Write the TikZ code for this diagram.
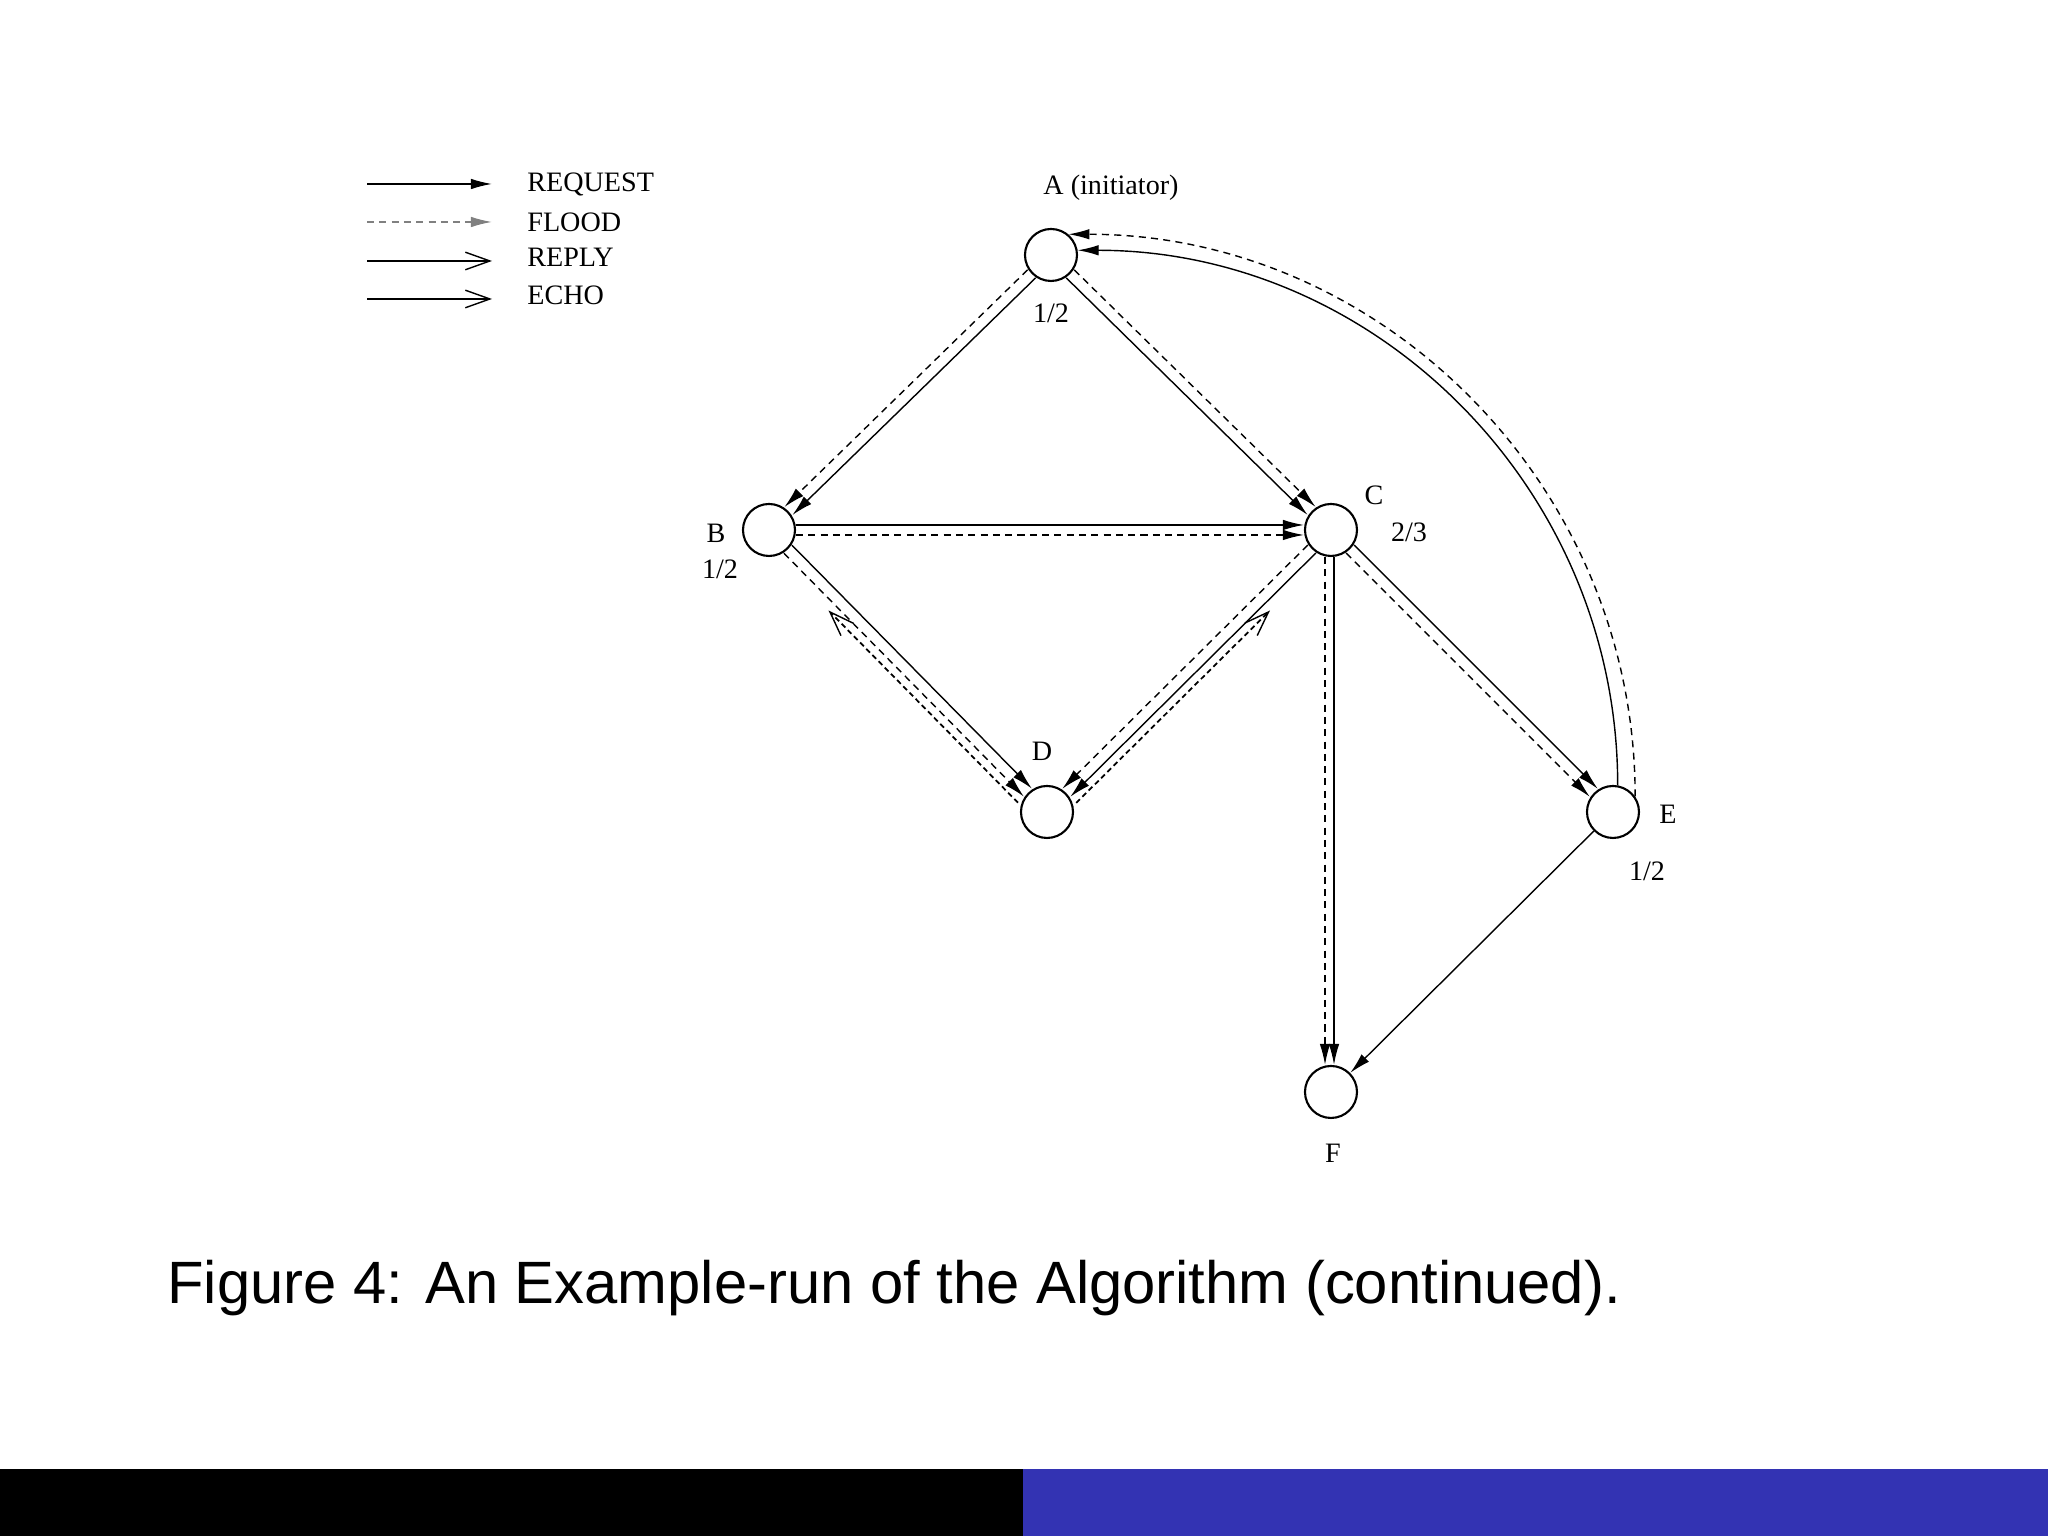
\documentclass[tikz,border=0pt]{standalone}
\usepackage{fontspec}
\setmainfont{Liberation Serif}
\newfontfamily\capfont{Liberation Sans}
\usetikzlibrary{arrows.meta,calc}
\definecolor{barblue}{RGB}{51,51,179}
\tikzset{
	host/.style		= {circle, draw, line width = 0.6pt, minimum size = 0.52cm, inner sep = 0pt},
	lbl/.style		= {font = \fontsize{8}{9}\selectfont},
	request/.style	= {line width = 0.4pt, -{Latex[length = 6pt, width = 3pt]}},
	flood/.style	= {line width = 0.4pt, dash pattern = on 2pt off 1.5pt, -{Latex[length = 6pt, width = 3pt]}},
	reply/.style	= {line width = 0.8pt, -{Straight Barb[length = 7pt, width = 5pt, line width = 0.4pt]}},
	echo/.style		= {line width = 0.5pt, dash pattern = on 1.5pt off 1pt, -{Straight Barb[length = 7pt, width = 5pt, line width = 0.4pt]}},
	off/.style		= {transform canvas = {shift = {#1}}}
}
\begin{document}
\begin{tikzpicture}
\useasboundingbox (0, 0) rectangle (20.48, 15.36);

\path	(10.51, 12.81)	node(a)		[host]	{}
		(7.69, 10.06)	node(b)		[host]	{}
		(13.31, 10.06)	node(c)		[host]	{}
		(10.47, 7.24)	node(d)		[host]	{}
		(16.13, 7.24)	node(e)		[host]	{}
		(13.31, 4.44)	node(f)		[host]	{};

\path	(11.11, 13.48)	node(a_name)	[lbl]	{A (initiator)}
		(10.51, 12.23)	node(a_val)		[lbl]	{1/2}
		(7.16, 10.03)	node(b_name)	[lbl]	{B}
		(7.20, 9.67)	node(b_val)		[lbl]	{1/2}
		(13.74, 10.41)	node(c_name)	[lbl]	{C}
		(14.09, 10.04)	node(c_val)		[lbl]	{2/3}
		(10.42, 7.85)	node(d_name)	[lbl]	{D}
		(16.68, 7.22)	node(e_name)	[lbl]	{E}
		(16.47, 6.65)	node(e_val)		[lbl]	{1/2}
		(13.33, 3.83)	node(f_name)	[lbl]	{F};

% legend
\path	(3.67, 13.52)	coordinate(req_from)	(4.92, 13.52)	coordinate(req_to)
		(3.67, 13.14)	coordinate(fl_from)		(4.92, 13.14)	coordinate(fl_to)
		(3.67, 12.75)	coordinate(rep_from)	(4.92, 12.75)	coordinate(rep_to)
		(3.67, 12.37)	coordinate(ech_from)	(4.92, 12.37)	coordinate(ech_to);
\path	(5.15, 13.52)	node(req_txt)	[lbl, anchor = west]	{REQUEST}
		(5.15, 13.14)	node(fl_txt)	[lbl, anchor = west]	{FLOOD}
		(5.15, 12.79)	node(rep_txt)	[lbl, anchor = west]	{REPLY}
		(5.15, 12.41)	node(ech_txt)	[lbl, anchor = west]	{ECHO};
\draw[request]	(req_from)	--	(req_to);
\draw[flood, gray]	(fl_from)	--	(fl_to);
\draw[reply]	(rep_from)	--	(rep_to);
\draw[reply]	(ech_from)	--	(ech_to);

% messages
\draw[flood, off = {(-0.04, 0.04)}]		(a)		--		(b);
\draw[request, off = {(0.04, -0.04)}]	(a)		--		(b);
\draw[flood, off = {(0.04, 0.04)}]		(a)		--		(c);
\draw[request, off = {(-0.04, -0.04)}]	(a)		--		(c);
\draw[request, off = {(0, 0.05)}]		(b)		--		(c);
\draw[flood, off = {(0, -0.05)}]		(b)		--		(c);
\draw[request, off = {(0.04, 0.04)}]	(b)		--		(d);
\draw[flood, off = {(-0.04, -0.04)}]	(b)		--		(d);
\draw[flood, off = {(-0.04, 0.04)}]		(c)		--		(d);
\draw[request, off = {(0.04, -0.04)}]	(c)		--		(d);
\draw[request, off = {(0.04, 0.04)}]	(c)		--		(e);
\draw[flood, off = {(-0.04, -0.04)}]	(c)		--		(e);
\draw[flood, off = {(-0.06, 0)}]		(c)		--		(f);
\draw[request, off = {(0.03, 0)}]		(c)		--		(f);
\draw[request]							(e)		--		(f);
\draw[request]	(e.80)	to[out = 90, in = 0]	(a.10);
\draw[flood]	(e.35)	to[out = 90, in = 0]	(a.50);

% echoes
\coordinate (echo_b) at ($(b)!0.25!(d)$);
\coordinate (echo_c) at ($(c)!0.25!(d)$);
\draw[echo, off = {(-0.1, -0.1)}]	(d)		--		(echo_b);
\draw[echo, off = {(0.1, -0.1)}]	(d)		--		(echo_c);

% caption and footer
\node(caption) [anchor = west, font = \capfont\fontsize{17}{20}\selectfont] at (1.55, 2.48) {Figure 4: An Example-run of the Algorithm (continued).};
\fill[black]	(0, 0)		rectangle	(10.23, 0.67);
\fill[barblue]	(10.23, 0)	rectangle	(20.48, 0.67);
\end{tikzpicture}
\end{document}
